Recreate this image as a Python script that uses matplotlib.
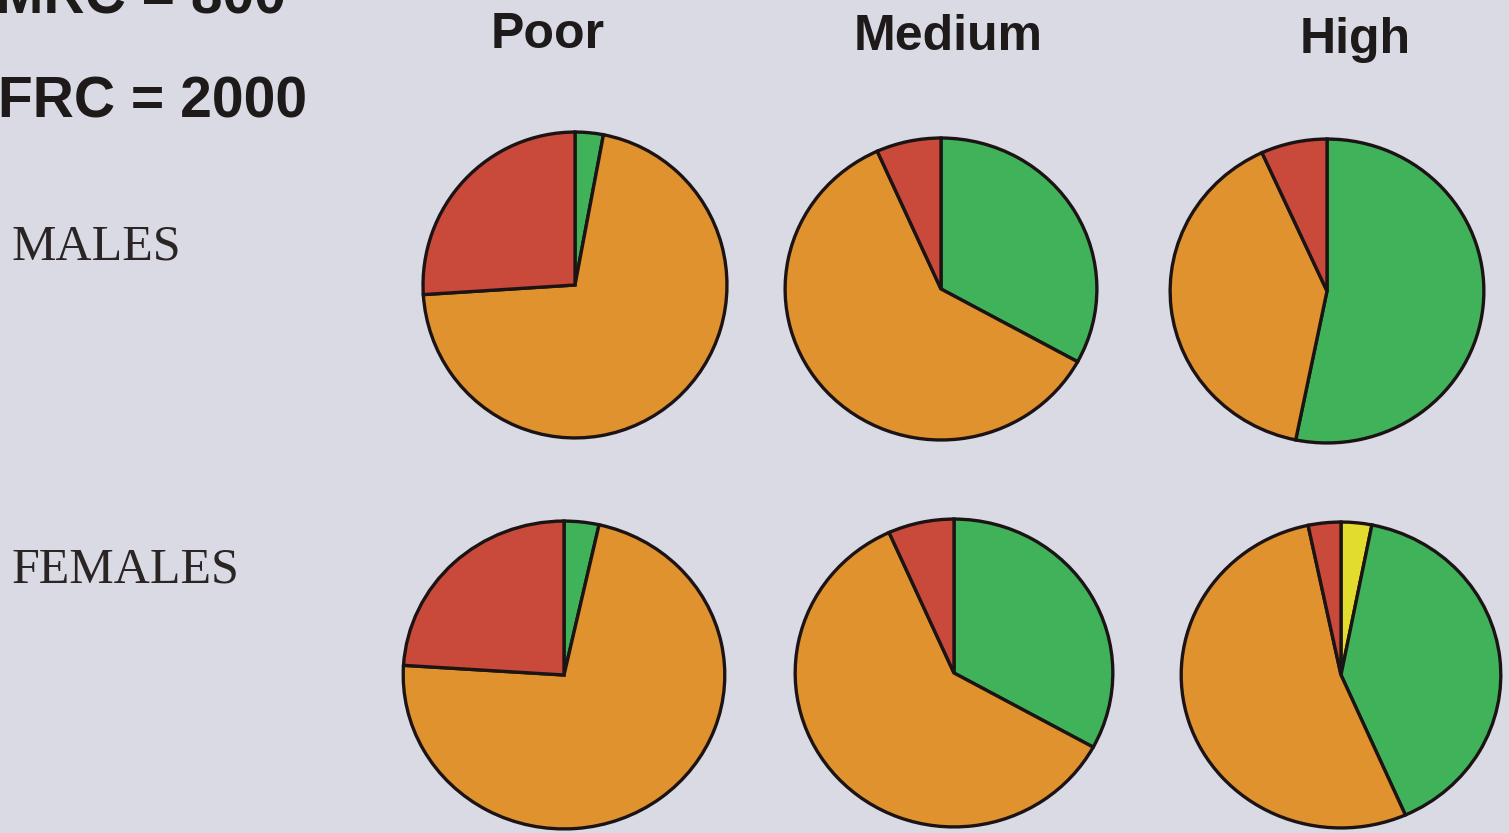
import numpy as np
import matplotlib.pyplot as plt

# data (percent of each pie, clockwise from 12 o'clock)
groups = ['Poor', 'Medium', 'High']
rows = ['MALES', 'FEMALES']
slice_names = ['yellow', 'green', 'orange', 'red']
slice_colors = ['#e2dc2e', '#3fb25a', '#e0922e', '#c9493b']

males_yellow = [0.0, 0.0, 0.0]
males_green = [3.0, 33.0, 53.2]
males_orange = [71.0, 60.3, 40.0]
males_red = [26.0, 6.7, 6.8]

females_yellow = [0.0, 0.0, 3.1]
females_green = [3.5, 33.0, 40.3]
females_orange = [72.5, 60.3, 53.3]
females_red = [24.0, 6.7, 3.3]

W, H = 1509, 833
bg = '#d9dae4'
fig = plt.figure(figsize=(W / 100, H / 100), dpi=100, facecolor=bg)

# pie centres / radii in pixels (photo is slightly squashed vertically)
centres = [[(575, 285), (941, 289), (1327, 291)],
           [(564, 675), (954, 673), (1341, 675)]]
rx = [[155, 159, 160], [164, 162, 163]]
ry = [[156, 154, 155], [157, 157, 156]]

data = [[males_yellow, males_green, males_orange, males_red],
        [females_yellow, females_green, females_orange, females_red]]

for r in range(2):
    for c in range(3):
        cx, cy = centres[r][c]
        ax = fig.add_axes([(cx - rx[r][c]) / W, 1 - (cy + ry[r][c]) / H,
                           2 * rx[r][c] / W, 2 * ry[r][c] / H])
        vals = [s[c] for s in data[r]]
        keep = [i for i, v in enumerate(vals) if v > 0]
        ax.pie([vals[i] for i in keep], colors=[slice_colors[i] for i in keep],
               startangle=90, counterclock=False,
               wedgeprops=dict(edgecolor='#1c1414', linewidth=2.4))
        ax.set_aspect('auto')
        ax.set_xlim(-1.02, 1.02)
        ax.set_ylim(-1.02, 1.02)
        ax.axis('off')

# column titles
title_x = [548, 948, 1355]
title_y = [35, 37, 40]
for g, x, y in zip(groups, title_x, title_y):
    fig.text(x / W, 1 - y / H, g, ha='center', va='center',
             fontsize=36, fontweight='bold', family='Liberation Sans', color='#1e1a1a')

# row labels
fig.text(12 / W, 1 - 247 / H, rows[0], ha='left', va='center',
         fontsize=36, family='Liberation Serif', color='#2a2424')
fig.text(12 / W, 1 - 570 / H, rows[1], ha='left', va='center',
         fontsize=36, family='Liberation Serif', color='#2a2424')

# top-left notes (first line is cut by the picture edge, as in the original)
fig.text(-2 / W, 1 - 118 / H, 'FRC = 2000', ha='left', va='baseline',
         fontsize=41, fontweight='bold', family='Liberation Sans', color='#1e1a1a')
fig.text(-4 / W, 1 - 14 / H, 'MRC = 800', ha='left', va='baseline',
         fontsize=41, fontweight='bold', family='Liberation Sans', color='#1e1a1a')

fig.savefig('out.png', dpi=100, facecolor=bg)
